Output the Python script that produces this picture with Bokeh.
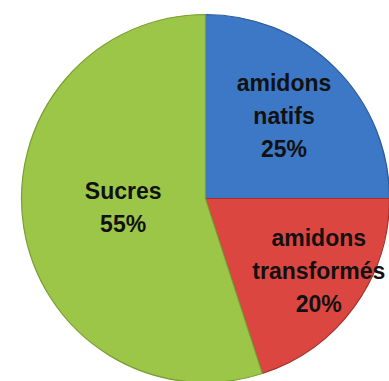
import math
from bokeh.plotting import figure
from bokeh.models import Range1d, ColumnDataSource
from bokeh.core.properties import value
from bokeh.embed import file_html
from bokeh.resources import INLINE

categories = ["amidons\nnatifs", "amidons\ntransformés", "Sucres"]
percents = [25, 20, 55]
colors = ["#3c78c5", "#dc4641", "#9cc648"]
edge_colors = ["#2c5c9a", "#a8302c", "#7a9e34"]
label_radius = [0.62, 0.73, 0.45]   # fraction of radius where labels sit
label_angle_shift = [1.5, 3.5, -3.0]  # degrees

W, H = 389, 381
cx, cy, R = 205, 183, 184

p = figure(width=W, height=H, output_backend="svg", toolbar_location=None,
           x_range=Range1d(0, W), y_range=Range1d(0, H), min_border=0)
p.axis.visible = False
p.grid.visible = False
p.outline_line_color = None
p.background_fill_color = "white"

total = sum(percents)
starts, ends, lx, ly, texts = [], [], [], [], []
cum = 0.0
for i, v in enumerate(percents):
    a0 = 90 - cum / total * 360
    cum += v
    a1 = 90 - cum / total * 360
    starts.append(math.radians(a0))
    ends.append(math.radians(a1))
    mid = math.radians((a0 + a1) / 2 + label_angle_shift[i])
    r = label_radius[i] * R
    lx.append(cx + r * math.cos(mid))
    ly.append(cy + r * math.sin(mid))
    texts.append(f"{categories[i]}\n{v}%")

src = ColumnDataSource(dict(start=starts, end=ends, color=colors, edge=edge_colors,
                            lx=lx, ly=ly, text=texts))

p.wedge(x=cx, y=cy, radius=R, start_angle="start", end_angle="end",
        direction="clock", fill_color="color", line_color="edge", line_width=1.2,
        source=src)

p.text(x="lx", y="ly", text="text", source=src, text_align="center",
       text_baseline="middle", text_font=value("Liberation Sans"),
       text_font_style="bold", text_font_size="23px", text_color="#111111",
       text_line_height=1.27)

open("out.html", "w").write(file_html(p, INLINE))
